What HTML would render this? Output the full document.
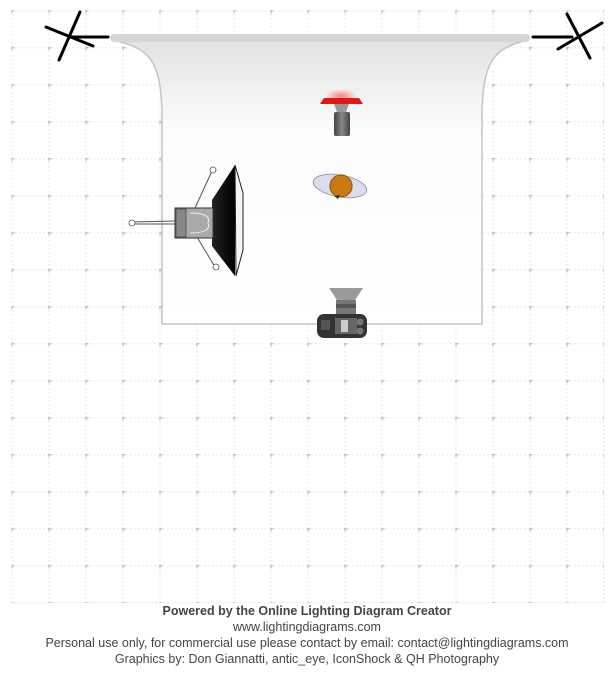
<!DOCTYPE html>
<html><head><meta charset="utf-8"><style>
html,body{margin:0;padding:0;background:#fff;width:614px;height:674px;overflow:hidden}
.t{position:absolute;left:0;width:614px;text-align:center;font-family:"Liberation Sans",Arial,sans-serif;font-size:12.5px;color:#444;line-height:15px}
</style></head><body>
<svg width="614" height="674" style="position:absolute;left:0;top:0" xmlns="http://www.w3.org/2000/svg">
<defs>
<pattern id="g" x="11.5" y="10.3" width="37" height="37" patternUnits="userSpaceOnUse">
<line x1="0" y1="0.5" x2="37" y2="0.5" stroke="#d4d4d4" stroke-width="1" stroke-dasharray="1,3"/>
<line x1="0.5" y1="0" x2="0.5" y2="37" stroke="#d4d4d4" stroke-width="1" stroke-dasharray="1,3"/>
<path d="M-2 0.5h5M0.5 -2v5" stroke="#b0b0b0" stroke-width="1"/>
</pattern>
<linearGradient id="bg" x1="0" y1="0" x2="0" y2="1">
<stop offset="0" stop-color="#e2e2e2"/><stop offset="0.3" stop-color="#fbfbfb"/><stop offset="1" stop-color="#fff"/>
</linearGradient>
<linearGradient id="cyl" x1="0" y1="0" x2="1" y2="0">
<stop offset="0" stop-color="#444"/><stop offset="0.5" stop-color="#888"/><stop offset="1" stop-color="#444"/>
</linearGradient>
<linearGradient id="sb" x1="0" y1="0" x2="1" y2="0">
<stop offset="0" stop-color="#222"/><stop offset="1" stop-color="#000"/>
</linearGradient>
<radialGradient id="glow"><stop offset="0" stop-color="#f33" stop-opacity="0.6"/><stop offset="1" stop-color="#f33" stop-opacity="0"/></radialGradient>
</defs>
<rect x="11.5" y="10.3" width="592.5" height="592.5" fill="url(#g)"/>
<line x1="11.5" y1="602.8" x2="604" y2="602.8" stroke="#d4d4d4" stroke-dasharray="1,3"/>
<line x1="604" y1="10" x2="604" y2="603" stroke="#d4d4d4" stroke-dasharray="1,3"/>
<path d="M112 40 C150 48 160 60 162 110 L162 324 L482 324 L482 110 C484 60 494 48 528 40 Z" fill="url(#bg)"/>
<path d="M112 40 C150 48 160 60 162 110 L162 324 L482 324 L482 110 C484 60 494 48 528 40" fill="none" stroke="#c4c4c4" stroke-width="1.5"/>
<rect x="110" y="34" width="420" height="8" rx="4" fill="#d6d6d6"/>
<g stroke="#000" stroke-width="3" stroke-linecap="round">
<line x1="80" y1="12" x2="59" y2="60"/><line x1="46" y1="27" x2="93" y2="46"/><line x1="70" y1="37" x2="108" y2="37"/>
<line x1="567" y1="14" x2="590" y2="58"/><line x1="602" y1="23" x2="558" y2="49"/><line x1="533" y1="37" x2="572" y2="37"/>
</g>
<ellipse cx="341" cy="96" rx="16" ry="7" fill="url(#glow)"/>
<path d="M324 98 L359 98 L363 104 L320 104 Z" fill="#e01818"/>
<path d="M334 104 L349 104 L346 112 L337 112 Z" fill="#999"/>
<rect x="334" y="112" width="16" height="24" rx="2" fill="url(#cyl)"/>
<ellipse cx="340" cy="186" rx="27" ry="11" fill="#dcdcf0" stroke="#8888a0" stroke-width="0.8" transform="rotate(10 340 186)"/>
<circle cx="341" cy="186" r="12" fill="#d9c080"/>
<circle cx="341" cy="186" r="11" fill="#c97a14" stroke="#7a4a0a" stroke-width="0.8"/>
<path d="M334 196 L338 199 L340 195" fill="#333"/>
<g stroke="#555" stroke-width="1" fill="none">
<line x1="212" y1="171" x2="195" y2="208"/><line x1="215" y1="267" x2="197" y2="237"/>
<line x1="132" y1="222" x2="175" y2="221"/><line x1="132" y1="224" x2="175" y2="224"/>
</g>
<g fill="#fff" stroke="#555" stroke-width="0.8">
<circle cx="213" cy="170" r="3"/><circle cx="216" cy="267" r="3"/><circle cx="132" cy="223" r="3"/>
</g>
<path d="M235 165 L212 200 L212 246 L235 276 Z" fill="url(#sb)"/>
<path d="M235 165 L243 193 L243 250 L236 276 Z" fill="#f4f4f4" stroke="#222" stroke-width="1"/>
<rect x="175" y="208" width="38" height="30" fill="#aaa" stroke="#333" stroke-width="1"/>
<rect x="176" y="209" width="10" height="28" fill="#888" stroke="#333" stroke-width="0.6"/>
<path d="M190 213 Q212 213 208 223 Q212 233 190 233" fill="none" stroke="#eee" stroke-width="1"/>
<path d="M329 288 L363 288 L355 300 L337 300 Z" fill="#9a9a9a"/>
<rect x="336" y="300" width="20" height="16" fill="#777"/>
<rect x="336" y="304" width="20" height="4" fill="#555"/>
<rect x="317" y="314" width="50" height="24" rx="7" fill="#333"/>
<rect x="335" y="318" width="22" height="16" fill="#666"/>
<rect x="341" y="320" width="7" height="12" fill="#ccc"/>
<circle cx="360" cy="322" r="3.5" fill="#777"/><circle cx="360" cy="331" r="3.5" fill="#777"/>
<rect x="321" y="320" width="9" height="10" fill="#555"/>
</svg>
<div class="t" style="top:604px;font-weight:bold">Powered by the Online Lighting Diagram Creator</div>
<div class="t" style="top:620px">www.lightingdiagrams.com</div>
<div class="t" style="top:636px">Personal use only, for commercial use please contact by email: contact@lightingdiagrams.com</div>
<div class="t" style="top:652px">Graphics by: Don Giannatti, antic_eye, IconShock &amp; QH Photography</div>
</body></html>
